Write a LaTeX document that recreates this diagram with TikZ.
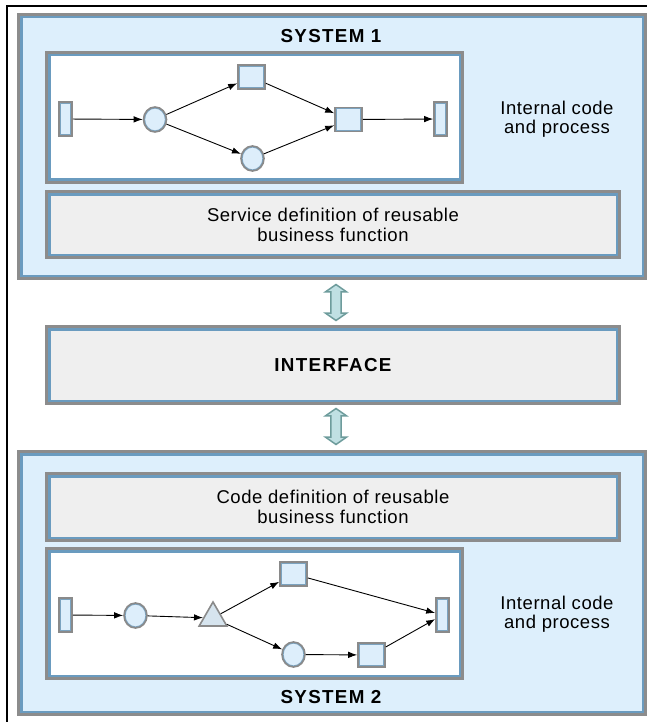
\documentclass[tikz,border=0pt]{standalone}
\usepackage{fontspec}
\setmainfont{Liberation Sans}
\newfontfamily\txtfont[LetterSpace=3]{Liberation Sans}
\newfontfamily\hdfont[LetterSpace=7]{Liberation Sans}
\usetikzlibrary{arrows.meta,shapes.geometric,shapes.arrows,calc}
\definecolor{sysfill}{HTML}{DDEFFC}
\definecolor{bgray}{HTML}{8C8C8C}
\definecolor{bblue}{HTML}{6A9BBF}
\definecolor{svcfill}{HTML}{EFEFEF}
\definecolor{nfill}{HTML}{DDEEFB}
\definecolor{trifill}{HTML}{D6E4EE}
\definecolor{ngray}{HTML}{8A8A8A}
\definecolor{nblue}{HTML}{7BA3C0}
\definecolor{afill}{HTML}{C0E0E3}
\definecolor{adraw}{HTML}{6E9C9C}
\tikzset{
  bigbox/.style={rectangle, draw=bgray, line width=3pt, inner sep=0pt,
    path picture={\draw[bblue,line width=8pt] (path picture bounding box.south west) rectangle (path picture bounding box.north east);}},
  sysbox/.style={bigbox, fill=sysfill},
  procbox/.style={bigbox, fill=white},
  svcbox/.style={bigbox, fill=svcfill, align=center, font=\txtfont\fontsize{18.5}{20}\selectfont},
  lbl/.style={align=center, inner sep=0pt, font=\txtfont\fontsize{18.5}{19}\selectfont},
  hd/.style={inner sep=0pt, font=\hdfont\bfseries\fontsize{18.8}{20}\selectfont},
  pnode/.style={draw=ngray, line width=1.6pt, fill=nfill, inner sep=0pt},
  prect/.style={pnode, rectangle, minimum width=13pt, minimum height=34pt,
    path picture={\draw[nblue,line width=3.2pt] (path picture bounding box.south west) rectangle (path picture bounding box.north east);}},
  psq/.style={pnode, rectangle, minimum width=27pt, minimum height=24pt,
    path picture={\draw[nblue,line width=3.2pt] (path picture bounding box.south west) rectangle (path picture bounding box.north east);}},
  pcirc/.style={pnode, ellipse, minimum width=23pt, minimum height=25pt,
    path picture={\draw[nblue,line width=3.2pt] (path picture bounding box.center) ellipse [x radius=11.5pt, y radius=12.5pt];}},
  ptri/.style={pnode, fill=trifill, regular polygon, regular polygon sides=3, minimum size=32pt},
  flow/.style={-{Latex[length=9pt,width=6.5pt]}, line width=0.9pt, black},
  dbl/.style={double arrow, rotate=90, draw=adraw, fill=afill, line width=1.5pt,
    minimum height=36pt, minimum width=19.5pt, inner sep=4.3pt,
    double arrow head extend=5.5pt, double arrow tip angle=110},
}
\begin{document}
\begin{tikzpicture}[x=1pt,y=-1pt]
\useasboundingbox (0,0) rectangle (646,722);
\fill[white] (0,0) rectangle (646,722);
\draw[black, line width=1.3pt] (7,740) -- (7,6) -- (670,6);

% System 1
\node[sysbox, minimum width=627pt, minimum height=264pt] (sys1) at (332,146.5) {};
\node[hd] (sys1t) at (331,36) {SYSTEM 1};
\node[procbox, minimum width=416pt, minimum height=130pt] (proc1) at (254.5,117.5) {};
\node[svcbox, minimum width=573pt, minimum height=66pt] (svc) at (333,224.5) {Service definition of reusable\\business function};
\node[lbl] (int1) at (557,119) {Internal code\\and process};

\node[prect] (r1) at (65.5,119) {};
\node[pcirc] (c1) at (155,119.5) {};
\node[psq] (s1) at (251.5,77) {};
\node[pcirc] (c2) at (252.5,158.5) {};
\node[psq] (s2) at (348.5,119.5) {};
\node[prect] (r2) at (440.5,119) {};
\draw[flow] (r1) -- (c1);
\draw[flow] (c1) -- (s1);
\draw[flow] (c1) -- (c2);
\draw[flow] (s1) -- (s2);
\draw[flow] (c2) -- (s2);
\draw[flow] (s2) -- (r2);

% Interface
\node[bigbox, fill=svcfill, minimum width=573pt, minimum height=77pt,
  font=\hdfont\bfseries\fontsize{18.8}{20}\selectfont] (iface) at (333,365) {INTERFACE};

% System 2
\node[sysbox, minimum width=627pt, minimum height=263pt] (sys2) at (332,583) {};
\node[svcbox, minimum width=573pt, minimum height=67pt] (code) at (333,507) {Code definition of reusable\\business function};
\node[procbox, minimum width=416pt, minimum height=130pt] (proc2) at (254.5,613.5) {};
\node[hd] (sys2t) at (331,697) {SYSTEM 2};
\node[lbl] (int2) at (557,614) {Internal code\\and process};

\node[prect] (r3) at (65.5,615) {};
\node[pcirc] (c3) at (135.5,615.5) {};
\node[ptri] (t1) at (213,618) {};
\node[psq] (s3) at (293.5,574) {};
\node[pcirc] (c4) at (293.5,654.5) {};
\node[psq] (s4) at (371.5,655) {};
\node[prect] (r4) at (442.5,615) {};
\draw[flow] (r3) -- (c3);
\draw[flow] (c3) -- (t1);
\draw[flow] (t1) -- (s3);
\draw[flow] (t1) -- (c4);
\draw[flow] (s3) -- (r4);
\draw[flow] (c4) -- (s4);
\draw[flow] (s4) -- (r4);

% Double arrows
\node[dbl] (a1) at ($(sys1.south)!0.5!(iface.north)+(3.5,0)$) {};
\node[dbl] (a2) at ($(iface.south)!0.5!(sys2.north)+(3.5,-1)$) {};
\end{tikzpicture}
\end{document}
